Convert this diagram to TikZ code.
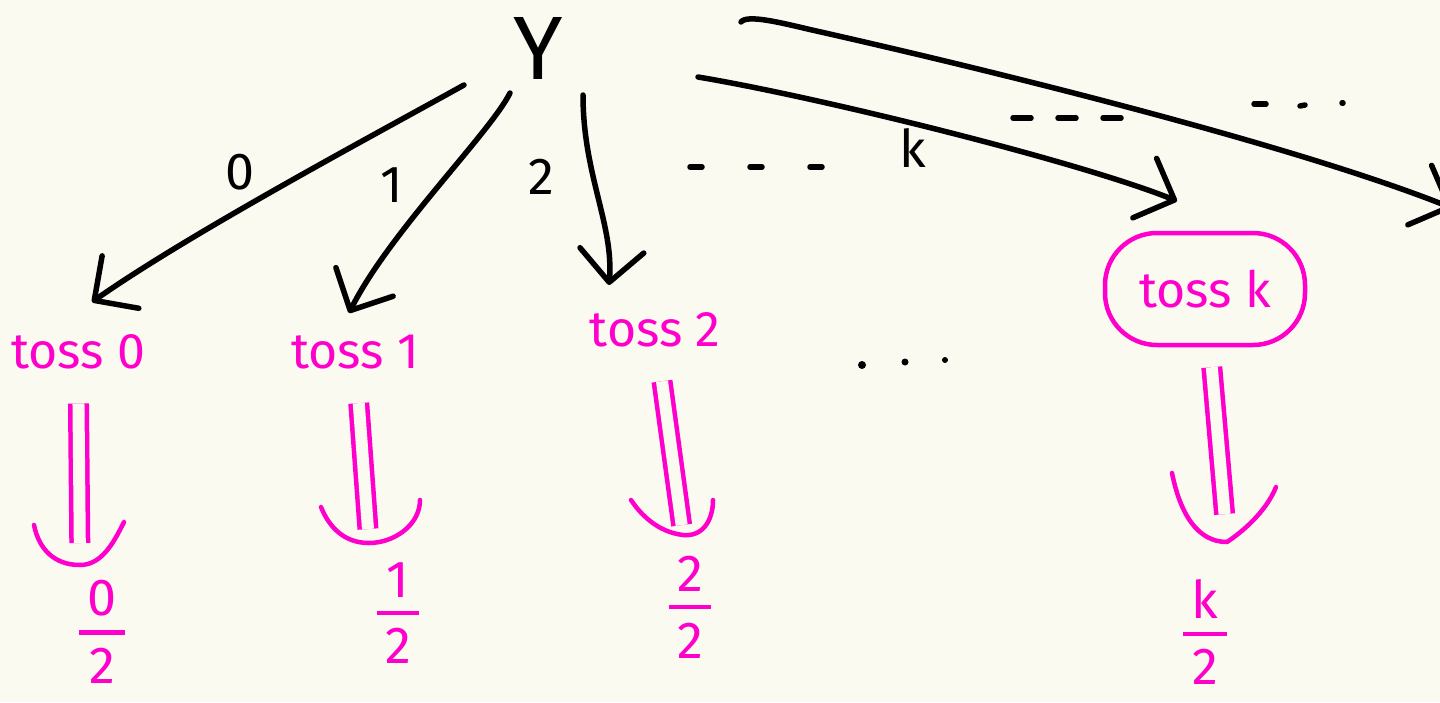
\documentclass[tikz,border=0pt]{standalone}
\usepackage{fontspec}
\usepackage{amsmath}
\setmainfont{Fira Sans}
\usetikzlibrary{arrows.meta}
\definecolor{paper}{HTML}{FAFAF0}
\definecolor{pinkink}{HTML}{FF00CC}
\newcommand{\halves}[1]{$\genfrac{}{}{4.5pt}{0}{\mkern6mu\text{#1}\mkern6mu}{\mkern6mu\text{2}\mkern6mu}$}

\begin{document}
\begin{tikzpicture}[x=1pt,y=-1pt,
  pen/.style={line width=5.5pt, line cap=round, line join=round},
  blk/.style={pen, draw=black},
  pk/.style={pen, draw=pinkink, line width=4.5pt},
  arr/.style={blk, -{Straight Barb[length=32pt,width=64pt,line cap=round,line join=round]}},
  shaft/.style={draw=pinkink, line width=4.5pt, double=paper, double distance=12pt, line cap=butt},
  toss/.style={text=pinkink, font=\fontsize{50}{58}\selectfont, inner sep=4pt},
  lbl/.style={text=black, font=\fontsize{52}{60}\selectfont, inner sep=0pt},
  frac/.style={text=pinkink, font=\fontsize{52}{60}\selectfont, inner sep=0pt},
]
\useasboundingbox (0,0) rectangle (1440,702);
\fill[paper] (0,0) rectangle (1440,702);
\clip (0,0) rectangle (1440,702);

% root and outcome nodes
\node[text=black, font=\fontsize{90}{100}\selectfont, inner sep=0pt] (Y) at (538,48) {Y};
\node[toss] (toss0) at (78,352) {toss 0};
\node[toss] (toss1) at (355,352) {toss 1};
\node[toss] (toss2) at (655,330) {toss 2};
\node[toss, draw=pinkink, line width=4.5pt, rounded corners=52pt,
      minimum width=200pt, minimum height=112pt] (tossk) at (1205,289) {toss k};
\coordinate (edge) at (1452,208);

% branch labels
\node[lbl] (l0) at (240,172) {0};
\node[lbl] (l1) at (392,185) {1};
\node[lbl] (l2) at (541,177) {2};
\node[lbl] (lk) at (913,148) {k};

% branches out of Y
\draw[arr] ([shift={(-74,37)}]Y.center) .. controls +(-90,50) and +(100,-70) .. ([shift={(14,-50)}]toss0.center);
\draw[arr] ([shift={(-28,45)}]Y.center) .. controls +(-20,40) and +(40,-80) .. ([shift={(-6,-39)}]toss1.center);
\draw[arr] ([shift={(45,47)}]Y.center) .. controls +(0,80) and +(5,-60) .. ([shift={(-46,-45)}]toss2.center);
\draw[arr] ([shift={(160,29)}]Y.center) .. controls +(120,20) and +(-100,-40) .. ([shift={(-28,-88)}]tossk.center);
\draw[arr] ([shift={(203,-26)}]Y.center) .. controls +(6,-8) and +(-30,-7) .. ++(71,8)
           .. controls +(200,45) and +(-150,-60) .. (edge);

% elided branches
\draw[blk, dash pattern=on 12pt off 48pt] (690,167) -- (826,167);
\draw[blk, dash pattern=on 18pt off 27pt] (1013,118) -- (1128,118);
\draw[blk] (1254,104) -- (1266,104);
\draw[blk] (1300,106) -- (1305,105);
\draw[blk] (1342,103) -- (1343,103);
\fill (862,365) circle (4);
\fill (905,362) circle (3.5);
\fill (945,360) circle (3);

% fractions
\node[frac] (f0) at (102,632) {\halves{0}};
\node[frac] (f1) at (398,613) {\halves{1}};
\node[frac] (f2) at (690,607) {\halves{2}};
\node[frac] (fk) at (1205,632) {\halves{k}};

% implication arrows
\coordinate (t0) at (80,565);
\coordinate (t1) at (369,543);
\coordinate (t2) at (683,535);
\coordinate (tk) at (1227,542);
\draw[shaft, shorten <=30pt, shorten >=22pt] (toss0) -- (t0);
\draw[shaft, shorten <=30pt, shorten >=14pt] (toss1) -- (t1);
\draw[shaft, shorten <=30pt, shorten >=10pt] (toss2) -- (t2);
\draw[shaft, shorten <=20pt, shorten >=28pt] (tossk) -- (tk);
\draw[pk] ([shift={(-46,-40)}]t0) .. controls +(5,25) and +(-25,0) .. (t0)
          .. controls +(22,0) and +(-10,20) .. ([shift={(44,-43)}]t0);
\draw[pk] ([shift={(-48,-36)}]t1) .. controls +(8,20) and +(-25,0) .. (t1)
          .. controls +(25,0) and +(0,25) .. ([shift={(51,-43)}]t1);
\draw[pk] ([shift={(-52,-35)}]t2) .. controls +(10,15) and +(-25,-3) .. (t2)
          .. controls +(20,2) and +(0,20) .. ([shift={(30,-35)}]t2);
\draw[pk] ([shift={(-55,-69)}]tk) .. controls +(8,40) and +(-30,0) .. (tk)
          .. controls +(15,-10) and +(-10,25) .. ([shift={(49,-55)}]tk);
\end{tikzpicture}
\end{document}
